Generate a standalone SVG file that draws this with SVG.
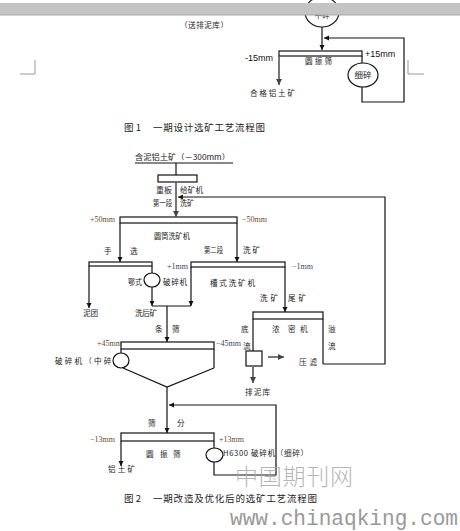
<svg xmlns="http://www.w3.org/2000/svg" width="460" height="531" viewBox="0 0 460 531">
<style>
.ln{fill:none;stroke:#111;stroke-width:1.2}
.gl{fill:none;stroke:#555;stroke-width:1.6}
.bx{fill:#fff;stroke:#111;stroke-width:1.2}
.t{font-family:"Noto Sans CJK SC","Liberation Sans",sans-serif;font-size:7.6px;fill:#222}
.t9{font-family:"Liberation Sans","Noto Sans CJK SC",sans-serif;font-size:9px;fill:#111}
.mm{font-family:"Liberation Serif",serif;font-size:8px}
.br{fill:#6a4a2a}
.bl{fill:#34466a}
.cap{font-family:"Noto Sans CJK SC",sans-serif;font-size:9.5px;fill:#222}
</style>
<defs>
<marker id="ar" markerWidth="6" markerHeight="6" refX="5" refY="3" orient="auto" markerUnits="userSpaceOnUse">
<path d="M0,0.5 L5,3 L0,5.5 Z" fill="#111"/>
</marker>
<marker id="ag" markerWidth="7" markerHeight="7" refX="6" refY="3.5" orient="auto" markerUnits="userSpaceOnUse">
<path d="M0,0.5 L6,3.5 L0,6.5 Z" fill="#444"/>
</marker>
</defs>
<rect width="460" height="531" fill="#fff"/>

<!-- Figure 1 -->
<g id="fig1-crusher-mid">
<ellipse cx="322" cy="12" rx="17" ry="15" class="bx"/>
<text x="322" y="18" text-anchor="middle" class="t">中碎</text>
</g>
<rect x="0" y="3" width="460" height="12" fill="#c4c4c4"/>
<line x1="0" y1="15" x2="460" y2="15" stroke="#a8a8a8" stroke-width="1"/>
<text x="180" y="28" class="t" textLength="48" lengthAdjust="spacing">（送排泥库）</text>
<g id="fig1-screen">
<rect x="279" y="51" width="83" height="5" class="bx"/>
<text x="305" y="64" class="t" textLength="27" lengthAdjust="spacing">圆振筛</text>
</g>
<g id="fig1-crusher-fine">
<ellipse cx="363" cy="75" rx="15" ry="12" class="bx"/>
<text x="363" y="78" text-anchor="middle" class="t" style="font-size:8.5px">细碎</text>
</g>
<g id="fig1-labels">
<text x="245" y="61" class="t9">-15mm</text>
<text x="365" y="57" class="t9">+15mm</text>
<text x="250" y="96" class="t" textLength="45" lengthAdjust="spacing">合格铝土矿</text>
</g>
<g id="fig1-connectors">
<line x1="322" y1="27" x2="322" y2="50" class="ln" marker-end="url(#ar)"/>
<line x1="279" y1="56" x2="279" y2="85" class="gl" marker-end="url(#ag)"/>
<line x1="362" y1="56" x2="362" y2="63" class="ln"/>
<polyline points="362,87 362,102 404,102 404,38 324,38" class="ln" marker-end="url(#ar)"/>
</g>
<g id="corners" fill="none" stroke="#999" stroke-width="1">
<polyline points="35,60 35,74 20,74"/>
<polyline points="408,60 408,74 424,74"/>
</g>
<text x="124" y="131" class="cap">图 1</text>
<text x="153" y="131" class="cap" textLength="112" lengthAdjust="spacing">一期设计选矿工艺流程图</text>

<!-- Figure 2 -->
<g id="feed">
<text x="135" y="160" class="t" textLength="95" lengthAdjust="spacingAndGlyphs">含泥铝土矿（－300mm）</text>
</g>
<g id="feeder">
<rect x="158" y="175" width="39" height="7" class="bx"/>
<text x="156" y="193" class="t" textLength="16" lengthAdjust="spacingAndGlyphs">重板</text>
<text x="180" y="193" class="t" textLength="23" lengthAdjust="spacing">给矿机</text>
</g>
<text x="153" y="206" class="t" textLength="19" lengthAdjust="spacingAndGlyphs">第一段</text>
<text x="180" y="206" class="t" textLength="14" lengthAdjust="spacingAndGlyphs">洗矿</text>
<g id="drum-washer">
<rect x="120" y="217" width="117" height="6" class="bx"/>
<text x="154" y="239" class="t" textLength="36" lengthAdjust="spacingAndGlyphs">圆筒洗矿机</text>
<text x="90" y="222" class="mm br">+50mm</text>
<text x="242" y="222" class="mm br">−50mm</text>
</g>
<text x="104" y="254" class="t">手</text>
<text x="130" y="254" class="t">选</text>
<text x="204" y="253" class="t" textLength="19" lengthAdjust="spacingAndGlyphs">第二段</text>
<text x="243" y="253" class="t" textLength="17" lengthAdjust="spacing">洗矿</text>
<g id="hand-sort">
<rect x="89" y="262" width="63" height="4" class="bx"/>
</g>
<g id="jaw-crusher">
<ellipse cx="152" cy="280" rx="8" ry="7" class="bx"/>
<text x="128" y="285" class="t" textLength="14" lengthAdjust="spacingAndGlyphs">鄂式</text>
<text x="163" y="285" class="t" textLength="24" lengthAdjust="spacing">破碎机</text>
</g>
<text x="83" y="316" class="t" textLength="15" lengthAdjust="spacing">泥团</text>
<g id="trough-washer">
<rect x="191" y="262" width="94" height="5" class="bx"/>
<text x="210" y="286" class="t" textLength="45" lengthAdjust="spacing">槽式洗矿机</text>
<text x="167" y="269" class="mm bl">+1mm</text>
<text x="292" y="269" class="mm bl">−1mm</text>
</g>
<text x="135" y="316" class="t" textLength="22" lengthAdjust="spacing">洗后矿</text>
<text x="260" y="301" class="t" textLength="18" lengthAdjust="spacing">洗矿</text>
<text x="288" y="301" class="t" textLength="18" lengthAdjust="spacing">尾矿</text>
<text x="155" y="332" class="t">条</text>
<text x="172" y="332" class="t">筛</text>
<g id="thickener">
<rect x="253" y="312" width="70" height="7" class="bx"/>
<text x="272" y="332" class="t">浓</text>
<text x="288" y="332" class="t">密</text>
<text x="300" y="332" class="t">机</text>
<text x="241" y="332" class="t">底</text>
<text x="243" y="349" class="t">流</text>
<text x="328" y="332" class="t">溢</text>
<text x="328" y="349" class="t">流</text>
</g>
<g id="filter-box">
<rect x="246" y="351" width="16" height="15" class="bx"/>
<text x="299" y="365" class="t" textLength="18" lengthAdjust="spacing">压滤</text>
<text x="245" y="395" class="t" textLength="25" lengthAdjust="spacing">排泥库</text>
</g>
<g id="bar-screen">
<text x="55" y="364" class="t" textLength="66" lengthAdjust="spacing">破碎机（中碎）</text>
<rect x="121" y="342" width="93" height="7" class="bx"/>
<ellipse cx="121" cy="360.5" rx="8" ry="7.5" class="bx"/>
<text x="97" y="346" class="mm br">+45mm</text>
<text x="216" y="346" class="mm bl">−45mm</text>
</g>
<text x="148" y="426" class="t">筛</text>
<text x="177" y="426" class="t">分</text>
<g id="vib-screen">
<rect x="121" y="433" width="93" height="8" class="bx"/>
<text x="146" y="457" class="t">圆</text>
<text x="160" y="457" class="t">振</text>
<text x="173" y="457" class="t">筛</text>
<text x="90" y="442" class="mm br">−13mm</text>
<text x="219" y="442" class="mm br">+13mm</text>
</g>
<g id="h6300">
<ellipse cx="214.5" cy="455" rx="8.5" ry="7" class="bx"/>
<text x="223" y="456" class="t" textLength="85" lengthAdjust="spacing">H6300 破碎机（细碎）</text>
</g>
<text x="108" y="472" class="t" textLength="27" lengthAdjust="spacing">铝土矿</text>

<g id="connectors">
<line x1="135" y1="163" x2="233" y2="163" class="ln"/>
<line x1="176" y1="163" x2="176" y2="175" class="ln"/>
<line x1="176" y1="182" x2="176" y2="217" class="gl" marker-end="url(#ag)"/>
<polyline points="323,364 385,364 385,197 178,197" class="ln" marker-end="url(#ar)"/>
<line x1="120" y1="223" x2="120" y2="262" class="ln" marker-end="url(#ar)"/>
<line x1="237" y1="223" x2="237" y2="262" class="ln" marker-end="url(#ar)"/>
<line x1="89" y1="266" x2="89" y2="308" class="ln" marker-end="url(#ar)"/>
<line x1="152" y1="266" x2="152" y2="273" class="ln"/>
<line x1="152" y1="287" x2="152" y2="306" class="ln" marker-end="url(#ar)"/>
<line x1="152" y1="306" x2="191" y2="306" class="ln"/>
<line x1="191" y1="267" x2="191" y2="306" class="ln" marker-end="url(#ar)"/>
<line x1="167" y1="306" x2="167" y2="342" class="ln" marker-end="url(#ar)"/>
<line x1="285" y1="267" x2="285" y2="312" class="ln" marker-end="url(#ar)"/>
<line x1="253" y1="319" x2="253" y2="351" class="ln"/>
<line x1="323" y1="319" x2="323" y2="364" class="ln"/>
<line x1="268" y1="357" x2="284" y2="357" class="gl" marker-end="url(#ag)"/>
<line x1="253" y1="367" x2="253" y2="383" class="gl" marker-end="url(#ag)"/>
<line x1="121" y1="349" x2="121" y2="353" class="ln"/>
<line x1="214" y1="349" x2="214" y2="368" class="ln"/>
<polyline points="123,368 167,387 214,368" class="ln"/>
<line x1="167" y1="387" x2="167" y2="433" class="ln" marker-end="url(#ar)"/>
<polyline points="214,462 214,475 276,475 276,405 169,405" class="ln" marker-end="url(#ar)"/>
<line x1="121" y1="441" x2="121" y2="466" class="ln" marker-end="url(#ar)"/>
<line x1="214" y1="441" x2="214" y2="448" class="ln"/>
</g>

<text x="124" y="502" class="cap">图 2</text>
<text x="153" y="502" class="cap" textLength="164" lengthAdjust="spacing">一期改造及优化后的选矿工艺流程图</text>

<text x="235" y="485" font-family="Noto Sans CJK SC,sans-serif" font-weight="300" font-size="23" fill="#a8a8a8" fill-opacity="0.85" textLength="118" lengthAdjust="spacing">中国期刊网</text>
<text x="230" y="525" font-family="Liberation Mono,monospace" font-size="22" fill="#999" textLength="228" lengthAdjust="spacingAndGlyphs">www.chinaqking.com</text>
</svg>
